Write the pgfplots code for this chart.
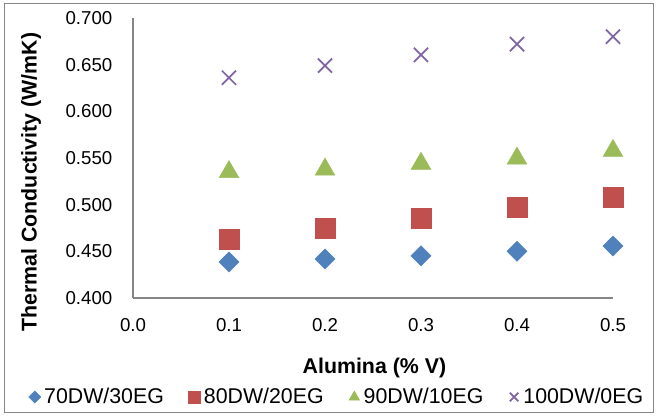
\documentclass[border=0pt]{standalone}
\usepackage{fontspec}
\setmainfont{Liberation Sans}
\usepackage{pgfplots}
\pgfplotsset{compat=1.18}
\definecolor{cblue}{HTML}{4F81BD}
\definecolor{cred}{HTML}{C0504D}
\definecolor{cgreen}{HTML}{9BBB59}
\definecolor{cpurple}{HTML}{8064A2}
\definecolor{axgray}{HTML}{868686}
\begin{document}
\begin{tikzpicture}
\path[use as bounding box] (-99.75pt,-88.5pt) rectangle (393.75pt,223.5pt);
\draw[axgray, line width=0.75pt] (-96pt,-86pt) rectangle (390pt,220.5pt);
\begin{axis}[
  scale only axis,
  width=360pt, height=210pt,
  xmin=0, xmax=0.5, ymin=0.4, ymax=0.7,
  xtick={0,0.1,0.2,0.3,0.4,0.5},
  ytick={0.4,0.45,0.5,0.55,0.6,0.65,0.7},
  axis x line*=bottom, axis y line*=left,
  axis line style={axgray, line width=0.9pt, -},
  major tick length=0pt,
  /pgf/number format/assume math mode=true,
  xticklabel style={/pgf/number format/fixed, /pgf/number format/precision=1, /pgf/number format/fixed zerofill, font=\fontsize{14}{16}\selectfont, yshift=-12pt},
  yticklabel style={/pgf/number format/fixed, /pgf/number format/precision=3, /pgf/number format/fixed zerofill, font=\fontsize{14}{16}\selectfont, xshift=-12pt},
  scaled ticks=false,
  xlabel={Alumina (\% V)},
  ylabel={Thermal Conductivity (W/mK)},
  every axis x label/.style={at={(rel axis cs:0.503,-0.25)}, anchor=center, font=\bfseries\fontsize{16}{18}\selectfont},
  every axis y label/.style={at={(rel axis cs:-0.2125,0.414)}, rotate=90, anchor=center, font=\bfseries\fontsize{16}{18}\selectfont},
  legend columns=4,
  legend style={at={(rel axis cs:0.425,-0.3536)}, anchor=center, draw=none, fill=none,
    font=\fontsize{16}{18}\selectfont,
    /tikz/every even column/.append style={column sep=17pt},
    nodes={inner sep=1.5pt}},
  legend image code/.code={\draw[mark size=4.5pt] plot coordinates {(0pt,0pt)}; \path[draw=none,fill=none] (-4.5pt,0pt) (5.5pt,0pt);},
  clip=false,
]
\addplot[only marks, mark=diamond*, mark size=7.5pt, color=cblue, mark options={xscale=1.333, draw=cblue, fill=cblue}]
  coordinates {(0.1,0.4386) (0.2,0.4418) (0.3,0.4452) (0.4,0.4500) (0.5,0.4557)};
\addlegendentry{70DW/30EG}
\addplot[only marks, mark=square*, mark size=7.5pt, color=cred, mark options={draw=cred, fill=cred}]
  coordinates {(0.1,0.4632) (0.2,0.4743) (0.3,0.4857) (0.4,0.4968) (0.5,0.5075)};
\addlegendentry{80DW/20EG}
\addplot[only marks, mark=triangle*, mark size=8.5pt, color=cgreen, mark options={draw=cgreen, fill=cgreen}]
  coordinates {(0.1,0.5350) (0.2,0.5377) (0.3,0.5440) (0.4,0.5495) (0.5,0.5577)};
\addlegendentry{90DW/10EG}
\addplot[only marks, mark=x, mark size=7.5pt, color=cpurple, mark options={draw=cpurple, line width=1.3pt}]
  coordinates {(0.1,0.6360) (0.2,0.6490) (0.3,0.6605) (0.4,0.6720) (0.5,0.6800)};
\addlegendentry{100DW/0EG}
\end{axis}
\end{tikzpicture}
\end{document}
